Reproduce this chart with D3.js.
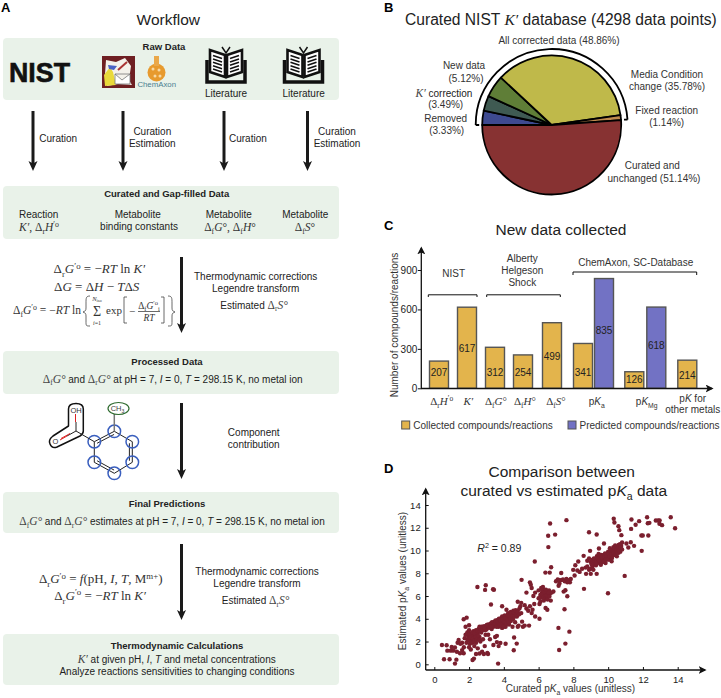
<!DOCTYPE html>
<html>
<head>
<meta charset="utf-8">
<title>Workflow and curated data</title>
<script src="https://d3js.org/d3.v7.min.js"></script>
<style>
    html, body { margin: 0; padding: 0; background: #fff; }
    svg { display: block; }
    text { font-family: "Liberation Sans", Arial, sans-serif; fill: #222; }
</style>
</head>
<body>
<div id="chart"></div>
<script>
// panel B
const pieLabels = ["Removed", "K' correction", "New data", "Media Condition change", "Fixed reaction", "Curated and unchanged"];
const pieValues = [3.33, 3.49, 5.12, 35.78, 1.14, 51.14];
const pieColors = ["#3e4a90", "#3f5a52", "#5f7e37", "#bfb94a", "#bf8a4f", "#873232"];

// panel C
const barIds = ["drH", "K", "dfG", "dfH", "dfS", "pKaC", "pKaP", "pKmgC", "pKmgP", "pKother"];
const barValues = [207, 617, 312, 254, 499, 341, 835, 126, 618, 214];
const barKinds = ["c", "c", "c", "c", "c", "c", "p", "c", "p", "c"];
const barTicks = [0, 300, 600, 900];
const barLeftPx = [429.5, 457.5, 485.5, 513.5, 542.5, 573.5, 594.5, 624.8, 646.8, 677.8];

// panel D: [curated pKa, estimated pKa]
const pkaPoints = [
    [0.44,1.7],[0.71,1.67],[0.56,0.44],[0.88,0.44],[1.19,0.06],[1.27,0.41],[0.75,1.2],[0.94,1.2],[1.09,1.2],[1,1.52],
    [1.19,1.47],[1.3,1.1],[1.48,0.97],[1.69,0.97],[1.4,2.14],[1.34,1.9],[1.6,1.9],[1.69,3.96],[1.86,4.1],[1.8,3.3],
    [2,3.43],[2.48,6.8],[2.96,6.95],[2.92,6.54],[3.38,6.6],[3.43,6.55],[3.26,5.25],[3.9,5.1],[3.67,0.06],[4.59,2.35],
    [4.74,1.82],[4.57,1.23],[4.1,1.8],[3.8,1.88],[3.6,1.95],[3.09,0.9],[2.2,0.38],[2.28,0.5],[2.4,0.9],[2.6,0.95],
    [1.5,1.8],[1.6,1.25],[1.7,1.5],[1.75,2.3],[1.8,2.6],[1.85,1.9],[1.9,2.2],[1.9,2.8],[1.95,2.5],[2,1.5],
    [2,2.1],[2,2.4],[2,3],[2.05,1.8],[2.1,2.7],[2.1,1.3],[2.15,2.2],[2.2,2.5],[2.2,1.9],[2.25,2.9],
    [2.3,2.2],[2.3,1.6],[2.35,2.6],[2.4,1.9],[2.4,3],[2.45,2.3],[2.5,2.7],[2.5,1.4],[2.55,3.1],[2.6,2.4],
    [2.6,3.3],[2.65,2],[2.7,2.8],[2.75,1.1],[2.8,3.3],[2.8,2.2],[2.85,0.9],[2.9,1.6],[2.95,2.6],[3,3.2],
    [3,3.05],[3.05,1.0],[3.1,2.6],[3.1,3.5],[3.2,3.3],[3.2,2.2],[3.25,3.6],[3.3,3.1],[3.35,3.5],[3.4,1.7],
    [3.4,3.3],[3.45,3.75],[3.5,3.4],[3.5,2.4],[3.55,3.7],[3.6,3.5],[3.6,2.5],[3.65,3.9],[3.7,3.3],[3.7,1.6],
    [3.75,3.7],[3.8,4.0],[3.8,3.4],[3.85,3.6],[3.9,4.2],[3.9,3.2],[3.95,3.7],[4,3.5],[4,4],[4.05,4.3],
    [4.1,3.3],[4.1,3.8],[4.15,4.8],[4.2,3.6],[4.2,4.1],[4.25,4.5],[4.3,3.9],[4.3,3.5],[4.35,4.2],[4.4,4.6],
    [4.4,3.8],[4.45,4.3],[4.5,4.1],[4.5,3.3],[4.55,4.7],[4.6,4.4],[4.65,3.7],[4.7,4.5],[4.75,4.2],[4.8,5.5],
    [4.8,4.7],[4.8,3.3],[4.85,3.4],[4.9,4.9],[4.95,5.1],[5,5.4],[5,4.5],[5.05,3.75],[5.1,3.3],[5.2,3.4],
    [5.2,5.2],[5.3,4.9],[5.4,4.7],[5.45,3.4],[5.5,5.1],[5.6,4.5],[5.65,4.8],[5.75,5.3],[5.8,4.2],[6.05,4],
    [5.02,7.42],[5.5,7.2],[5.55,7.0],[5.6,6.7],[5.3,6.3],[5.7,6.0],[5.8,6.3],[6,6.5],[6,5.8],[6.05,5.3],
    [6.1,6.1],[6.1,5.5],[6.15,6.7],[6.2,6.3],[6.2,5.9],[6.25,6.8],[6.3,6.1],[6.3,5.6],[6.35,6.5],[6.4,6.2],
    [6.4,4.95],[6.45,5.8],[6.5,6.3],[6.5,4.8],[6.55,6.1],[6.6,6.5],[6.65,6.2],[6.75,6.3],[6.85,6.4],[6.7,5.6],
    [5.78,9.03],[6.55,11.3],[6.66,12.37],[6.95,11.4],[6.56,10.3],[7.6,12.67],[6.72,8.53],[6.39,8.06],[6.64,8.06],[7.3,8.03],
    [7.14,3.2],[7.54,1.82],[7.18,1.26],[7.77,2.87],[7.49,4.84],[7,7.3],[7.1,7.45],[7.2,7.4],[7.3,7.4],[7.4,7.45],
    [7.5,7.3],[7.6,7.5],[7.7,7.4],[7.8,7.2],[7.2,7.1],[7.15,6.9],[7.85,7.5],[7.65,7.2],[7.44,6.39],[7.54,6.51],
    [7.65,5.98],[8.28,9.03],[8.11,8.71],[7.99,8.3],[8.23,8.24],[8.36,8.12],[8.07,7.8],[8.73,7.95],[9,7.95],[9.34,7.95],
    [8.61,6.63],[8.59,9.53],[8.96,9.97],[9.47,10.18],[8.9,11.61],[9.34,11.41],[9.76,10.62],[9.99,6.25],[10.95,7.77],[8.5,8.4],
    [8.7,8.5],[8.8,8.6],[8.9,8.3],[9,8.4],[9.1,8.6],[9.2,8.9],[9.3,8.7],[8.8,9.1],[8.9,9.3],[9,9],
    [9.1,9.2],[9.15,8.3],[9.3,9.1],[9.35,9.5],[9.4,9],[9.5,8.9],[9.55,9.3],[9.6,9],[9.7,9.2],[9.75,9.6],
    [9.8,9.3],[9.85,8.9],[9.9,9.7],[9.95,9.4],[10,9.5],[10,9.9],[10.05,9.2],[10.1,9.8],[10.15,9.4],[10.2,10],
    [10.2,9.05],[10.25,9.7],[10.3,10.3],[10.35,9.6],[10.4,10],[10.45,9.8],[10.5,10.3],[10.5,9.5],[10.55,10.1],[10.6,10.5],
    [10.6,9.8],[10.65,10.2],[10.7,9.9],[10.75,10.4],[10.8,10.1],[10.8,10.7],[9.45,9.7],[9.6,9.6],[10.1,10.2],[10.4,10.45],
    [11.05,10.62],[11.16,10.26],[11.3,10.73],[11.49,10.41],[11.93,9.97],[11.91,11.32],[11.99,11.32],[12.31,11.32],[10.32,12.79],[10.36,12.46],
    [11.34,12.73],[10.59,12.14],[10.64,11.79],[10.76,11.35],[11.32,11.9],[11.58,12.26],[11.78,12.58],[12.24,12.93],[12.28,12.4],[12.37,12.43],
    [12.74,12.64],[12.87,12.64],[12.96,12.64],[12.95,12.35],[13.1,12.23],[13.6,12.93],[13.85,11.96],
    [1.95,2.15],[2.02,2.65],[2.08,2.35],[2.12,1.95],[2.18,2.8],[2.22,2.3],[2.28,2.05],[2.32,2.75],[2.38,2.4],[2.42,2.15],
    [2.48,2.95],[2.52,2.5],[2.58,2.15],[2.62,2.9],[2.68,3.1],[2.72,3.3],[2.78,3.0],[2.88,3.35],[2.92,3.0],[3.02,3.45],
    [3.15,3.2],[3.22,3.5],[3.28,3.35],[3.32,3.7],[3.42,3.55],[3.48,3.6],[3.52,3.85],[3.58,3.3],[3.62,3.75],[3.68,3.55],
    [3.72,4.0],[3.78,3.55],[3.82,3.85],[3.88,3.45],[3.92,3.95],[3.98,3.3],[4.02,3.75],[4.08,4.05],[4.12,3.55],[4.18,3.9],
    [4.22,4.35],[4.28,3.7],[4.32,4.25],[4.38,4.0],[4.42,4.45],[4.48,4.25],[4.52,3.95],[4.58,4.55],[4.62,4.2],[4.68,4.75],
    [4.72,4.35],[4.78,4.6],[4.88,4.4],[6.12,5.85],[6.18,6.15],[6.22,6.5],[6.28,5.9],[6.32,6.35],[6.38,6.0],[6.42,6.55],
    [6.48,6.05],[6.52,5.7],[6.58,6.3],[6.62,5.95],[9.05,8.8],[9.12,8.95],[9.18,9.3],[9.25,9.0],[9.32,8.85],[9.42,9.3],
    [9.48,9.15],[9.52,9.6],[9.58,8.75],[9.65,9.4],[9.72,9.0],[9.78,9.5],[9.82,9.75],[9.88,9.25],[9.92,9.55],[9.98,9.2],
    [10.02,9.7],[10.08,9.5],[10.12,10.0],[10.18,9.65],[10.22,9.35],[10.28,9.95],[10.32,9.8],[10.38,10.2],[10.42,9.6],[10.48,10.05],
    [10.52,9.85],[10.58,10.3],[10.62,10.0],[10.68,10.55],[10.72,10.25]
];
const pkaTicks = [0, 2, 4, 6, 8, 10, 12, 14];

const W = 721, H = 698;
const svg = d3.select("#chart").append("svg").attr("width", W).attr("height", H);
const defs = svg.append("defs");
defs.append("marker").attr("id", "head").attr("viewBox", "0 0 10 10").attr("refX", 8).attr("refY", 5)
    .attr("markerWidth", 8).attr("markerHeight", 8).attr("markerUnits", "userSpaceOnUse").attr("orient", "auto")
    .append("path").attr("d", "M0,0 L10,5 L0,10 L2.5,5 Z").attr("fill", "#111");

// small markup: *italic*, _{sub}, ^{sup}, rest plain
function rich(x, y, str, opt) {
    opt = opt || {};
    const size = opt.size || 10;
    const t = svg.append("text").attr("x", x).attr("y", y).attr("font-size", size)
        .attr("text-anchor", opt.anchor || "middle");
    if (opt.serif) t.style("font-family", '"Liberation Serif", serif');
    if (opt.bold) t.attr("font-weight", "bold");
    if (opt.fill) t.style("fill", opt.fill);
    if (opt.rotate) t.attr("transform", `rotate(${opt.rotate} ${x} ${y})`);
    let shift = 0;
    str.split(/(\*[^*]+\*|_\{[^}]*\}|\^\{[^}]*\})/).filter(s => s).forEach(tok => {
        const s = t.append("tspan");
        let target = 0, body = tok;
        if (tok[0] === "*") { body = tok.slice(1, -1); s.attr("font-style", "italic"); }
        else if (tok[0] === "_" && tok[1] === "{") { body = tok.slice(2, -1); target = size * 0.28; s.attr("font-size", size * 0.68); }
        else if (tok[0] === "^" && tok[1] === "{") { body = tok.slice(2, -1); target = -size * 0.36; s.attr("font-size", size * 0.68); }
        s.attr("dy", target - shift).text(body);
        shift = target;
    });
    return t;
}
const eq = { serif: true, fill: "#333" };
const lab = (x, y, s, o) => rich(x, y, s, o);
const math = (x, y, s, o) => rich(x, y, s, Object.assign({}, eq, { size: 12 }, o));

function mixed(x, y, parts, anchor) {
    // sans text with serif math runs
    const t = svg.append("text").attr("x", x).attr("y", y).attr("font-size", 10).attr("text-anchor", anchor || "middle");
    parts.forEach(p => {
        const s = t.append("tspan").text(p.t);
        if (p.m) s.style("font-family", '"Liberation Serif", serif').style("fill", "#444").attr("font-size", 11.5);
        if (p.i) s.attr("font-style", "italic");
        if (p.sub) s.attr("font-size", 7.5).attr("dy", 2.5);
        if (p.back) s.attr("dy", -2.5);
    });
    return t;
}
const dfG = [{ t: "Δ", m: 1 }, { t: "f", m: 1, sub: 1 }, { t: "G°", m: 1, i: 1, back: 1 }];
const drG = [{ t: "Δ", m: 1 }, { t: "r", m: 1, sub: 1 }, { t: "G°", m: 1, i: 1, back: 1 }];

function arrow(x, y1, y2) {
    svg.append("line").attr("x1", x).attr("x2", x).attr("y1", y1).attr("y2", y2 - 6)
        .attr("stroke", "#1a1a1a").attr("stroke-width", 3);
    svg.append("path").attr("d", `M${x - 4.5},${y2 - 10} L${x},${y2 - 7.5} L${x + 4.5},${y2 - 10} L${x},${y2} Z`).attr("fill", "#1a1a1a");
}

// ---------- panel letters
[["A", 1, 11.5], ["B", 384, 11.5], ["C", 384, 230], ["D", 384, 473]].forEach(d =>
    svg.append("text").attr("x", d[1]).attr("y", d[2]).attr("font-size", 13).attr("font-weight", "bold").style("fill", "#000").text(d[0]));

// ---------- panel A
lab(168.3, 25, "Workflow", { size: 15.5 });
[[38, 100], [186, 239], [351, 394], [492, 533], [634, 685]].forEach(b =>
    svg.append("rect").attr("x", 3).attr("y", b[0]).attr("width", 336).attr("height", b[1] - b[0]).attr("rx", 4).attr("fill", "#e9f2e9"));

lab(164, 50, "Raw Data", { bold: true, size: 9.5 });
svg.append("text").attr("x", 9).attr("y", 82).attr("font-size", 27).attr("font-weight", "bold")
    .attr("textLength", 61).attr("lengthAdjust", "spacingAndGlyphs").style("fill", "#111").style("stroke", "#111").style("stroke-width", 0.6).text("NIST");

// database icon
svg.append("rect").attr("x", 102).attr("y", 56).attr("width", 33).attr("height", 32).attr("fill", "#6e1f22");
svg.append("path").attr("d", "M106,60 L116,62 L125,58 L131,66 L129,80 L132,85 L118,84 L107,86 L105,74 Z").attr("fill", "#f4f1ea");
svg.append("path").attr("d", "M104,75 L110,67 L113,72 L116,85 L105,86 Z").attr("fill", "#e9d93a");
svg.append("path").attr("d", "M108,65 L117,66 L114,70 L109,69 Z").attr("fill", "#4a62c4");
svg.append("path").attr("d", "M115,74 L130,74 L130,84 L115,84 Z M115,74 L122,80 L130,74").attr("fill", "#fff").attr("stroke", "#777").attr("stroke-width", 0.8);
svg.append("line").attr("x1", 118).attr("y1", 70).attr("x2", 127).attr("y2", 62).attr("stroke", "#a33").attr("stroke-width", 2);

// flask
svg.append("circle").attr("cx", 156.5).attr("cy", 72.5).attr("r", 9).attr("fill", "#e79a2e");
svg.append("rect").attr("x", 154).attr("y", 56).attr("width", 5).attr("height", 10).attr("fill", "#eaa84a");
svg.selectAll(".fl").data([[153, 69], [159, 70], [155, 76], [160, 76]]).join("circle")
    .attr("cx", d => d[0]).attr("cy", d => d[1]).attr("r", 1.5).attr("fill", "#f7d9a4");
lab(156.7, 87.3, "ChemAxon", { size: 7.8, fill: "#4a8090" });

function book(cx) {
    const g = svg.append("g").attr("transform", `translate(${cx},47)`);
    g.append("path").attr("d", "M-19,13 L-19,35 L19,35 L19,13").attr("fill", "none").attr("stroke", "#111").attr("stroke-width", 3.5);
    [-1, 1].forEach(s => {
        g.append("path").attr("d", `M${s * 1},8 L${s * 16},3 L${s * 16},25 L${s * 1},30 Z`)
            .attr("fill", "#fff").attr("stroke", "#111").attr("stroke-width", 2.6).attr("stroke-linejoin", "miter");
        d3.range(5).forEach(i => g.append("line")
            .attr("x1", s * 4).attr("x2", s * 13).attr("y1", 11.5 + i * 3.4).attr("y2", 8.5 + i * 3.4)
            .attr("stroke", "#111").attr("stroke-width", 1.6));
    });
    g.append("path").attr("d", "M-4,0 L0,6 L4,0").attr("fill", "none").attr("stroke", "#111").attr("stroke-width", 1.5);
}
book(226); book(303.5);
lab(226, 96.7, "Literature");
lab(303.7, 96.5, "Literature");

[33, 123, 224, 307.5].forEach(x => arrow(x, 111, 171));
lab(39.3, 141.7, "Curation", { anchor: "start" });
lab(152.3, 135, "Curation"); lab(152.3, 146.7, "Estimation");
lab(229, 141.7, "Curation", { anchor: "start" });
lab(337, 135, "Curation"); lab(337, 146.7, "Estimation");

lab(166.7, 197.3, "Curated and Gap-filled Data", { bold: true, size: 9.5 });
lab(38.7, 218.3, "Reaction");
math(39, 231, "*K′*, Δ_{r}*H*^{′o}", { size: 11.5 });
lab(137.7, 218.3, "Metabolite"); lab(139, 230, "binding constants");
lab(228.7, 218.3, "Metabolite");
math(230, 231, "Δ_{f}*G*°, Δ_{f}*H*°", { size: 11.5 });
lab(305.3, 218.3, "Metabolite");
math(305, 231, "Δ_{f}*S*°", { size: 11.5 });

arrow(181.5, 257, 333);
math(99.3, 273.3, "Δ_{r}*G*^{′o} = −*RT* ln *K′*", { size: 13 });
math(96.7, 291, "Δ*G* = Δ*H* − *T*Δ*S*", { size: 13 });
math(13, 314, "Δ_{f}*G*^{′o} = −*RT* ln", { anchor: "start", size: 11.5 });
// braces and brackets of the sum formula
const thin = { fill: "none", stroke: "#444", "stroke-width": 0.8 };
function outline(d) { const p = svg.append("path").attr("d", d); Object.entries(thin).forEach(e => p.attr(e[0], e[1])); }
outline("M90,296 C86,296 86,298 86,303 L86,308 C86,311 85,311 83,312 C85,313 86,313 86,316 L86,321 C86,326 86,326 90,326");
outline("M168,296 C172,296 172,298 172,303 L172,308 C172,311 173,311 175,312 C173,313 172,313 172,316 L172,321 C172,326 172,326 168,326");
outline("M127,297 L124,297 L124,323 L127,323");
outline("M161,297 L164,297 L164,323 L161,323");
outline("M138,311.5 L160,311.5");
math(97, 316, "Σ", { size: 14 });
math(97, 300.5, "*N*_{iso}", { size: 6.5 });
math(97, 324.5, "*i*=1", { size: 6 });
math(114, 314, "exp", { size: 11 });
math(132, 314.5, "−", { size: 11 });
math(149, 308.5, "Δ_{f}*G*^{′o}_{i}", { size: 9.5 });
math(149, 321, "*RT*", { size: 9.5 });
lab(255.7, 280, "Thermodynamic corrections");
lab(255.7, 292, "Legendre transform");
mixed(254, 308.7, [{ t: "Estimated " }, { t: "Δ", m: 1 }, { t: "r", m: 1, sub: 1 }, { t: "S°", m: 1, i: 1, back: 1 }]);

lab(167, 365, "Processed Data", { bold: true, size: 9.5 });
mixed(172.7, 382.7, [...dfG, { t: " and " }, ...drG, { t: " at pH = 7, " }, { t: "I", i: 1 }, { t: " = 0, " }, { t: "T", i: 1 }, { t: " = 298.15 K, no metal ion" }]);

// molecule
const ring = [[94.3, 441.7], [114.3, 431.3], [132.3, 441.7], [132.3, 462.3], [114.3, 473.3], [94.3, 462.3]];
svg.append("path").attr("d", d3.line().curve(d3.curveLinearClosed)(ring)).attr("fill", "none").attr("stroke", "#222").attr("stroke-width", 1);
[[0, 1], [2, 3], [4, 5]].forEach(p => svg.append("line")
    .attr("x1", (ring[p[0]][0] * 0.85 + 113 * 0.15)).attr("y1", ring[p[0]][1] * 0.85 + 452 * 0.15)
    .attr("x2", (ring[p[1]][0] * 0.85 + 113 * 0.15)).attr("y2", ring[p[1]][1] * 0.85 + 452 * 0.15)
    .attr("stroke", "#222").attr("stroke-width", 1));
svg.selectAll(".atom").data(ring).join("circle").attr("cx", d => d[0]).attr("cy", d => d[1]).attr("r", 6.3)
    .attr("fill", "none").attr("stroke", "#3a5fbe").attr("stroke-width", 1.5);
svg.append("line").attr("x1", 114.3).attr("y1", 431).attr("x2", 114.3).attr("y2", 414).attr("stroke", "#777").attr("stroke-width", 1.5);
svg.append("ellipse").attr("cx", 118.5).attr("cy", 408.5).attr("rx", 10.5).attr("ry", 6).attr("fill", "none").attr("stroke", "#2f6b30").attr("stroke-width", 1.2);
rich(117.5, 411, "CH_{3}", { size: 7.5, fill: "#444" });
svg.append("path").attr("d", "M68.5,426 L68.5,409 Q68.5,403.5 76,403.5 Q83.3,403.5 83.3,409 L83.3,431 Q83.3,434 80,436 L57,447 Q52,449 50,444 Q48,440 53,436 Z")
    .attr("fill", "none").attr("stroke", "#111").attr("stroke-width", 1.5).attr("stroke-linejoin", "round");
svg.append("line").attr("x1", 76).attr("y1", 431).attr("x2", 94).attr("y2", 441.5).attr("stroke", "#222").attr("stroke-width", 1);
svg.append("line").attr("x1", 76).attr("y1", 431).attr("x2", 76).attr("y2", 422).attr("stroke", "#222").attr("stroke-width", 1);
svg.append("line").attr("x1", 75.5).attr("y1", 422).attr("x2", 75.5).attr("y2", 414).attr("stroke", "#d22").attr("stroke-width", 1);
svg.append("line").attr("x1", 76).attr("y1", 431).attr("x2", 67).attr("y2", 436).attr("stroke", "#222").attr("stroke-width", 1);
svg.append("line").attr("x1", 67).attr("y1", 436).attr("x2", 60).attr("y2", 440).attr("stroke", "#d22").attr("stroke-width", 1);
svg.append("line").attr("x1", 70).attr("y1", 433.5).attr("x2", 61).attr("y2", 438.5).attr("stroke", "#d22").attr("stroke-width", 1);
rich(76, 413, "OH", { size: 7.5, fill: "#333" });
rich(55.5, 444, "O", { size: 7.5, fill: "#333" });

arrow(181.5, 403, 479);
lab(253.7, 436, "Component"); lab(253.7, 448, "contribution");

lab(167, 506.7, "Final Predictions", { bold: true, size: 9.5 });
mixed(172, 525, [...dfG, { t: " and " }, ...drG, { t: " estimates at pH = 7, " }, { t: "I", i: 1 }, { t: " = 0, " }, { t: "T", i: 1 }, { t: " = 298.15 K, no metal ion" }]);

arrow(181.5, 544, 620);
math(100.7, 583.3, "Δ_{r}*G*^{′o} = *f*(pH, *I*, *T*, M^{m+})", { size: 13 });
math(100, 600, "Δ_{r}*G*^{′o} = −*RT* ln *K′*", { size: 13 });
lab(257, 575.3, "Thermodynamic corrections");
lab(257, 587.3, "Legendre transform");
mixed(255.5, 604, [{ t: "Estimated " }, { t: "Δ", m: 1 }, { t: "r", m: 1, sub: 1 }, { t: "S°", m: 1, i: 1, back: 1 }]);

lab(177, 649, "Thermodynamic Calculations", { bold: true, size: 9.5 });
mixed(176.7, 663.3, [{ t: "K′", m: 1, i: 1 }, { t: " at given pH, " }, { t: "I", i: 1 }, { t: ", " }, { t: "T", i: 1 }, { t: " and metal concentrations" }]);
lab(177, 675, "Analyze reactions sensitivities to changing conditions");

// ---------- panel B
mixedTitle();
function mixedTitle() {
    const t = svg.append("text").attr("x", 405).attr("y", 25.3).attr("font-size", 15.6);
    t.append("tspan").text("Curated NIST ");
    t.append("tspan").text("K′").attr("font-style", "italic").style("font-family", '"Liberation Serif", serif');
    t.append("tspan").text(" database (4298 data points)");
}
const pieCx = 551.7, pieCy = 125, pieR = 69.5;
const pieGen = d3.pie().sort(null).startAngle(-Math.PI / 2).endAngle(Math.PI * 1.5);
const arcGen = d3.arc().innerRadius(0).outerRadius(pieR);
const pieG = svg.append("g").attr("transform", `translate(${pieCx},${pieCy})`);
pieG.selectAll("path").data(pieGen(pieValues)).join("path")
    .attr("d", arcGen).attr("fill", (d, i) => pieColors[i])
    .attr("stroke", "#000").attr("stroke-width", 1.8).attr("stroke-linejoin", "round");
// bracket over the corrected slices
const outerStart = pieGen(pieValues)[0].startAngle, outerEnd = pieGen(pieValues)[4].endAngle, outerR = 76;
const bracket = d3.arc().innerRadius(outerR).outerRadius(outerR).startAngle(outerStart).endAngle(outerEnd)();
pieG.append("path").attr("d", bracket).attr("fill", "none").attr("stroke", "#000").attr("stroke-width", 1.8);
const endX = outerR * Math.sin(outerEnd), endY = -outerR * Math.cos(outerEnd);
pieG.append("path").attr("d", `M${-outerR},0 l3.5,0 M${endX},${endY} l-3.5,0`).attr("stroke", "#000").attr("stroke-width", 1.8).attr("fill", "none");

const grey = { fill: "#333" };
[[559, 44.3, "All corrected data (48.86%)"], [464, 69.3, "New data"], [466, 81.7, "(5.12%)"],
 [445.7, 108.3, "(3.49%)"], [445.7, 121.7, "Removed"], [446.7, 134.3, "(3.33%)"],
 [667, 78.3, "Media Condition"], [667, 90, "change (35.78%)"], [666.7, 114.3, "Fixed reaction"], [666.7, 126, "(1.14%)"],
 [652.3, 169.3, "Curated and"], [654, 181.7, "unchanged (51.14%)"]].forEach(d => lab(d[0], d[1], d[2], grey));
mixed(444, 96.7, [{ t: "K′", m: 1, i: 1 }, { t: " correction" }]);

// ---------- panel C
lab(561, 235, "New data collected", { size: 15.5 });
const yBar = d3.scaleLinear().domain([0, 900]).range([388.3, 270]);
const xBar = d3.scaleOrdinal().domain(barIds).range(barLeftPx);
const barW = 19;
const barFill = { c: "#e3b44c", p: "#7272c4" };
const barG = svg.append("g");
barG.selectAll("rect").data(barIds).join("rect")
    .attr("x", d => xBar(d)).attr("width", barW)
    .attr("y", (d, i) => yBar(barValues[i])).attr("height", (d, i) => yBar(0) - yBar(barValues[i]))
    .attr("fill", (d, i) => barFill[barKinds[i]]).attr("stroke", "#555").attr("stroke-width", 1.4);
const barLabelY = [375.7, 351.7, 375.7, 375.7, 360, 375.7, 333.7, 383.3, 349.3, 378.7];
barG.selectAll("text").data(barIds).join("text")
    .attr("x", d => xBar(d) + barW / 2).attr("y", (d, i) => barLabelY[i]).attr("text-anchor", "middle").attr("font-size", 10)
    .text((d, i) => barValues[i]);

const axBar = svg.append("g").attr("transform", "translate(421.3,0)")
    .call(d3.axisLeft(yBar).tickValues(barTicks).tickSize(3.5).tickPadding(0.5).tickFormat(d3.format("d")));
axBar.select(".domain").remove();
axBar.selectAll("line").attr("stroke", "#111").attr("stroke-width", 1);
axBar.selectAll("text").attr("font-size", 10).attr("font-family", null);
svg.append("line").attr("x1", 421.3).attr("y1", 388.5).attr("x2", 421.3).attr("y2", 248).attr("stroke", "#111").attr("stroke-width", 1.3).attr("marker-end", "url(#head)");
svg.append("line").attr("x1", 421).attr("y1", 388.5).attr("x2", 712).attr("y2", 388.5).attr("stroke", "#111").attr("stroke-width", 1.3).attr("marker-end", "url(#head)");
lab(398, 325, "Number of compounds/reactions", { rotate: -90, fill: "#333" });

lab(453.7, 277.3, "NIST", grey);
lab(522.3, 262.3, "Alberty", grey); lab(522.3, 274.3, "Helgeson", grey); lab(522.3, 286, "Shock", grey);
lab(635.7, 266, "ChemAxon, SC-Database", grey);
[[428.3, 477, 297, 294.8], [486.7, 560.3, 297, 294.8], [573, 696.7, 275, 272]].forEach(b =>
    svg.append("path").attr("d", `M${b[0]},${b[2]} L${b[0]},${b[3]} L${b[1]},${b[3]} L${b[1]},${b[2]}`).attr("fill", "none").attr("stroke", "#111").attr("stroke-width", 1));

math(441.7, 405, "Δ_{r}*H*^{′o}", { size: 11 });
math(468.3, 405, "*K′*", { size: 11 });
math(496, 405, "Δ_{f}*G*°", { size: 11 });
math(525, 405, "Δ_{f}*H*°", { size: 11 });
math(556, 405, "Δ_{f}*S*°", { size: 11 });
rich(596.7, 405, "p*K*_{a}", { fill: "#333" });
rich(646.7, 405, "p*K*_{Mg}", { fill: "#333" });
rich(692.7, 401.7, "p*K* for", { fill: "#333" });
lab(692.7, 413.3, "other metals", grey);

[[401.7, "c", "Collected compounds/reactions"], [568, "p", "Predicted compounds/reactions"]].forEach(d => {
    svg.append("rect").attr("x", d[0]).attr("y", 421).attr("width", 8).attr("height", 8)
        .attr("fill", barFill[d[1]]).attr("stroke", "#555").attr("stroke-width", 1);
    lab(d[0] + 11.5, 428.5, d[2], { anchor: "start", fill: "#333" });
});

// ---------- panel D
lab(561.7, 477, "Comparison between", { size: 15.5 });
rich(563.8, 496, "curated vs estimated p*K*_{a} data", { size: 15.5 });
const xP = d3.scaleLinear().domain([0, 14]).range([434.3, 677.7]);
const yP = d3.scaleLinear().domain([0, 14]).range([664.3, 505]);
svg.append("g").selectAll("circle").data(pkaPoints).join("circle")
    .attr("cx", d => xP(d[0])).attr("cy", d => yP(d[1])).attr("r", 2.2).attr("fill", "#7b1f2e");
const axX = svg.append("g").attr("transform", "translate(0,670)")
    .call(d3.axisBottom(xP).tickValues(pkaTicks).tickSize(0).tickPadding(6));
const axY = svg.append("g").attr("transform", "translate(425.7,0)")
    .call(d3.axisLeft(yP).tickValues(pkaTicks).tickSize(0).tickPadding(5));
[axX, axY].forEach(a => {
    a.select(".domain").remove();
    a.selectAll("text").attr("font-size", 9.5).attr("font-family", null);
});
axX.selectAll(".tick line").attr("y2", -3).attr("stroke", "#111");
axY.selectAll(".tick line").attr("x2", 3).attr("stroke", "#111");
svg.append("line").attr("x1", 425.7).attr("y1", 670).attr("x2", 425.7).attr("y2", 489).attr("stroke", "#111").attr("stroke-width", 1.3).attr("marker-end", "url(#head)");
svg.append("line").attr("x1", 425.7).attr("y1", 670).attr("x2", 705).attr("y2", 670).attr("stroke", "#111").attr("stroke-width", 1.3).attr("marker-end", "url(#head)");
rich(477.3, 551.7, "*R*^{2} = 0.89", { anchor: "start", size: 10.5 });
rich(570.5, 692.3, "Curated p*K*_{a} values (unitless)", { fill: "#333" });
rich(406, 581, "Estimated p*K*_{a} values (unitless)", { rotate: -90, fill: "#333" });
</script>
</body>
</html>
